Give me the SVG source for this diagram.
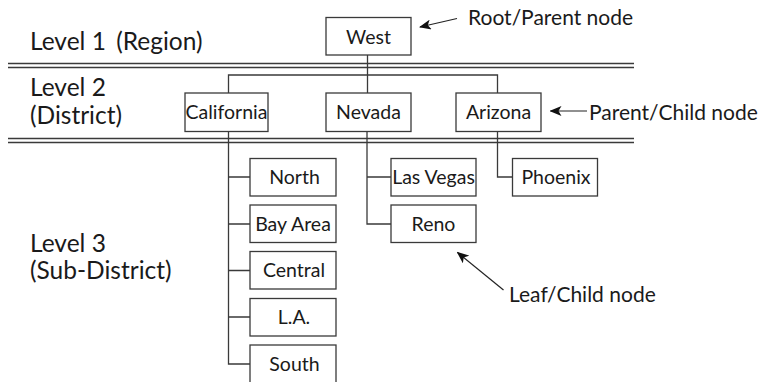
<svg xmlns="http://www.w3.org/2000/svg" width="766" height="382" viewBox="0 0 766 382">
  <style>
    .bg { fill: #ffffff; }
    .box { fill: #ffffff; stroke: #3a3a3a; stroke-width: 1.3; }
    .node-text { font-family: Lato, "Open Sans", sans-serif; font-size: 19.5px; fill: #1a1a1a; text-anchor: middle; }
    .label { font-family: Lato, "Open Sans", sans-serif; font-size: 24.5px; fill: #1a1a1a; }
    .note { font-family: Lato, "Open Sans", sans-serif; font-size: 21px; fill: #1a1a1a; }
    .wire { fill: none; stroke: #3a3a3a; stroke-width: 1.3; }
    .rule { fill: none; stroke: #3a3a3a; stroke-width: 1.5; }
    .pointer { fill: none; stroke: #222222; stroke-width: 1.2; marker-end: url(#head); }
  </style>
  <defs>
    <marker id="head" viewBox="0 0 12 10" refX="11" refY="5" markerWidth="12" markerHeight="10" markerUnits="userSpaceOnUse" orient="auto">
      <path d="M0,0 L12,5 L0,10 L3,5 Z" fill="#111111"/>
    </marker>
  </defs>

  <rect class="bg" x="0" y="0" width="766" height="382"/>

  <!-- level separators -->
  <g id="separators">
    <line class="rule" x1="8" y1="63.5" x2="634" y2="63.5"/>
    <line class="rule" x1="8" y1="67.5" x2="634" y2="67.5"/>
    <line class="rule" x1="8" y1="138.5" x2="634" y2="138.5"/>
    <line class="rule" x1="8" y1="142.5" x2="634" y2="142.5"/>
  </g>

  <!-- level captions -->
  <g id="level-labels">
    <text class="label" x="30" y="50">Level 1 <tspan dx="4">(Region)</tspan></text>
    <text class="label" x="30" y="95.5">Level 2</text>
    <text class="label" x="30" y="124">(District)</text>
    <text class="label" x="30" y="252">Level 3</text>
    <text class="label" x="30" y="279">(Sub-District)</text>
  </g>

  <!-- tree connectors -->
  <g id="connectors">
    <path class="wire" d="M367.5,55 V93"/>
    <path class="wire" d="M228.5,93 V75 H497.5 V93"/>
    <path class="wire" d="M228.5,131.5 V364 H250"/>
    <path class="wire" d="M228.5,177 H250 M228.5,224 H250 M228.5,270.5 H250 M228.5,317 H250"/>
    <path class="wire" d="M367,131.5 V224 H391 M367,177 H391"/>
    <path class="wire" d="M497.5,131.5 V177 H512.5"/>
  </g>

  <!-- level 1 -->
  <g id="node-west">
    <rect class="box" x="326" y="17.5" width="85" height="37.5"/>
    <text class="node-text" x="368.5" y="43.5">West</text>
  </g>

  <!-- level 2 -->
  <g id="node-california">
    <rect class="box" x="185" y="93" width="83" height="38.5"/>
    <text class="node-text" x="226.5" y="119">California</text>
  </g>
  <g id="node-nevada">
    <rect class="box" x="326" y="93" width="85" height="38.5"/>
    <text class="node-text" x="368.5" y="119">Nevada</text>
  </g>
  <g id="node-arizona">
    <rect class="box" x="456" y="93" width="85" height="38.5"/>
    <text class="node-text" x="498.5" y="119">Arizona</text>
  </g>

  <!-- level 3 -->
  <g id="node-north">
    <rect class="box" x="250" y="158.5" width="86" height="37.5"/>
    <text class="node-text" x="294.5" y="184">North</text>
  </g>
  <g id="node-bay-area">
    <rect class="box" x="250" y="205" width="86" height="37.5"/>
    <text class="node-text" x="293" y="230.5">Bay Area</text>
  </g>
  <g id="node-central">
    <rect class="box" x="250" y="251.5" width="86" height="37.5"/>
    <text class="node-text" x="294" y="277">Central</text>
  </g>
  <g id="node-la">
    <rect class="box" x="250" y="298.5" width="86" height="37.5"/>
    <text class="node-text" x="294" y="324">L.A.</text>
  </g>
  <g id="node-south">
    <rect class="box" x="250" y="345" width="86" height="40"/>
    <text class="node-text" x="294.5" y="370.5">South</text>
  </g>
  <g id="node-las-vegas">
    <rect class="box" x="391" y="158.5" width="85" height="37.5"/>
    <text class="node-text" x="433.5" y="184">Las Vegas</text>
  </g>
  <g id="node-reno">
    <rect class="box" x="391" y="205" width="85" height="37.5"/>
    <text class="node-text" x="433.5" y="230.5">Reno</text>
  </g>
  <g id="node-phoenix">
    <rect class="box" x="512.5" y="158.5" width="85" height="37.5"/>
    <text class="node-text" x="556" y="184">Phoenix</text>
  </g>

  <!-- annotations -->
  <g id="annotations">
    <line class="pointer" x1="457" y1="18.5" x2="420" y2="27"/>
    <text class="note" x="468" y="25">Root/Parent node</text>
    <line class="pointer" x1="587" y1="111" x2="550.5" y2="111"/>
    <text class="note" x="589" y="119.5">Parent/Child node</text>
    <line class="pointer" x1="503.5" y1="290" x2="457.5" y2="252.5"/>
    <text class="note" x="509" y="301.5">Leaf/Child node</text>
  </g>
</svg>
